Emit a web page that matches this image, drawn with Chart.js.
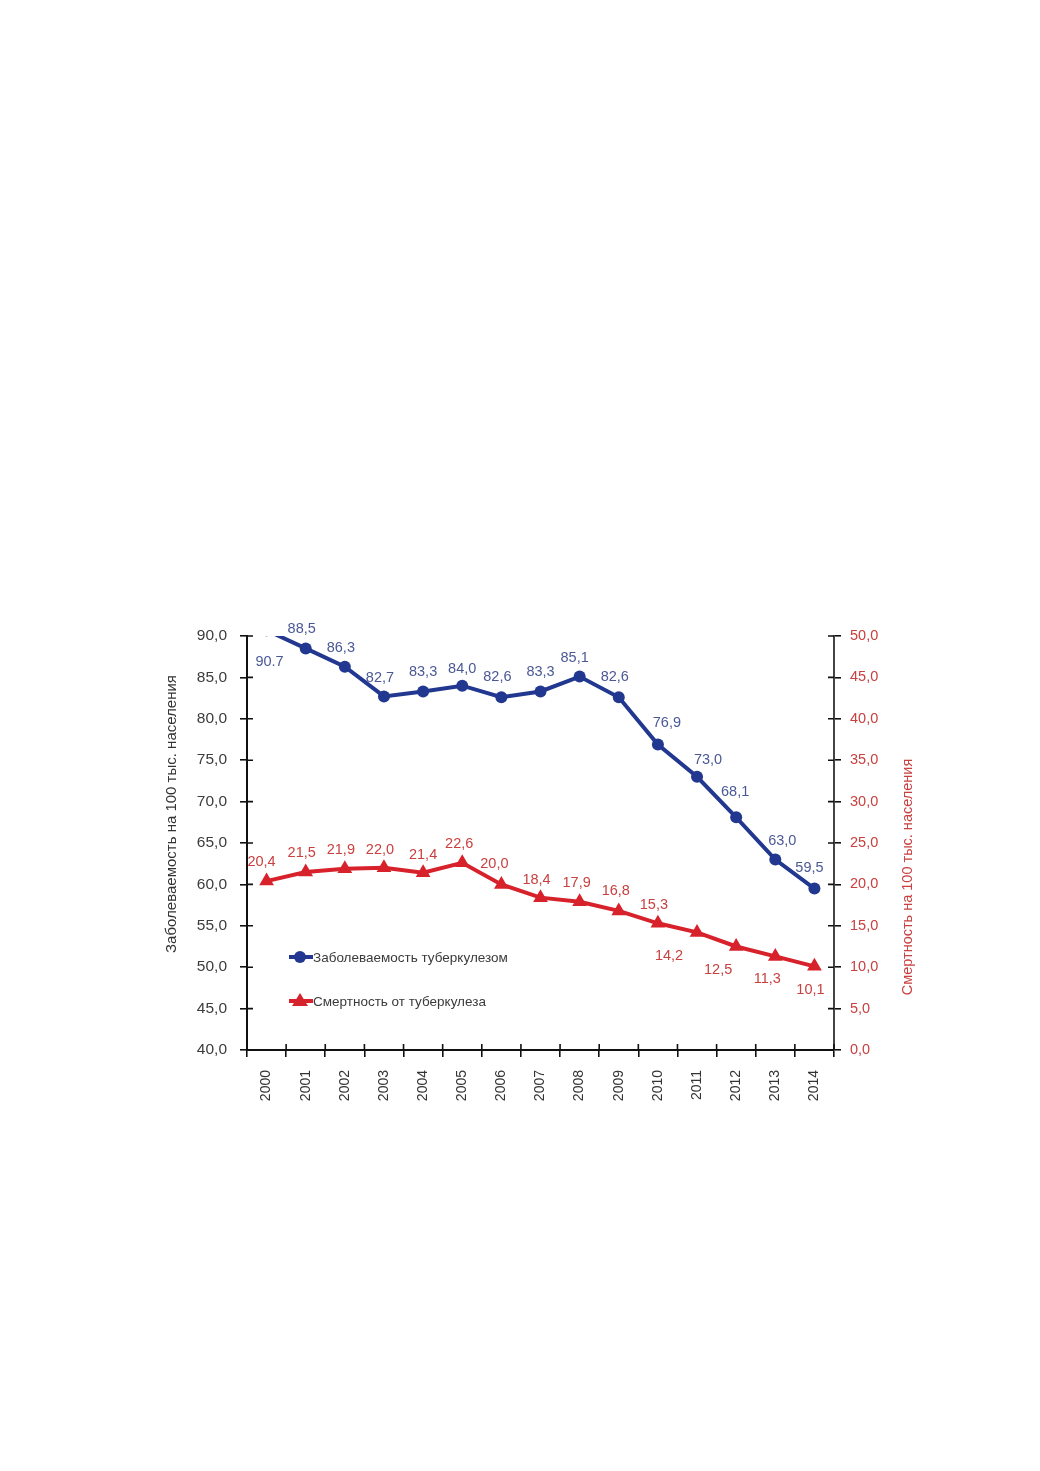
<!DOCTYPE html>
<html>
<head>
<meta charset="utf-8">
<script src="https://cdn.jsdelivr.net/npm/chart.js@4/dist/chart.umd.min.js"></script>
<style>
  body { margin: 0; background: #fff; }
  #wrap { position: relative; width: 1040px; height: 1471px; }
  #tb { position: absolute; left: 150px; top: 610px; }
</style>
</head>
<body>
<div id="wrap"><canvas id="tb" width="790" height="520"></canvas></div>
<script>
// data ===========

const years = ["2000", "2001", "2002", "2003", "2004", "2005", "2006", "2007",
  "2008", "2009", "2010", "2011", "2012", "2013", "2014"];

const incidence = [90.7, 88.5, 86.3, 82.7, 83.3, 84.0, 82.6, 83.3, 85.1, 82.6,
  76.9, 73.0, 68.1, 63.0, 59.5];

const mortality = [20.4, 21.5, 21.9, 22.0, 21.4, 22.6, 20.0, 18.4, 17.9, 16.8,
  15.3, 14.2, 12.5, 11.3, 10.1];

const leftTicks = { min: 40, max: 90, step: 5 };
const rightTicks = { min: 0, max: 50, step: 5 };

const incidenceName = "Заболеваемость туберкулезом";
const mortalityName = "Смертность от туберкулеза";
const leftTitle = "Заболеваемость на 100 тыс. населения";
const rightTitle = "Смертность на 100 тыс. населения";

// label nudges (dx, dy from the point)
const blueNudge = [[3, 32], [-4, -19], [-4, -19], [-4, -18], [0, -19], [0, -17],
  [-4, -20], [0, -19], [-5, -19], [-4, -20], [9, -21], [11, -17], [-1, -25],
  [7, -19], [-5, -21]];
const redNudge = [[-5, -19], [-4, -19], [-4, -19], [-4, -18], [0, -18], [-3, -19],
  [-7, -20], [-4, -18], [-3, -19], [-3, -20], [-4, -18], [-28, 24], [-18, 23],
  [-8, 23], [-4, 24]];

const BLUE = "#22378f";
const RED = "#d7222c";
const BLUE_TXT = "#4b5896";
const RED_TXT = "#c8403f";
const FONT = "'Liberation Sans', Arial, sans-serif";

function fmt(v, i, ds) {
  // the first blue label is printed with a dot in the source
  if (ds === 0 && i === 0) return v.toFixed(1);
  return v.toFixed(1).replace(".", ",");
}

// plugin: point labels, inner tick halves, legend, axis titles
const extras = {
  id: "extras",
  afterDatasetsDraw(chart) {
    const ctx = chart.ctx;
    ctx.save();
    ctx.font = "14.5px " + FONT;
    ctx.textAlign = "center";
    ctx.textBaseline = "middle";
    [[0, blueNudge, BLUE_TXT], [1, redNudge, RED_TXT]].forEach(([d, nudge, col]) => {
      const meta = chart.getDatasetMeta(d);
      const vals = chart.data.datasets[d].data;
      ctx.fillStyle = col;
      meta.data.forEach((pt, i) => {
        ctx.fillText(fmt(vals[i], i, d), pt.x + nudge[i][0], pt.y + nudge[i][1]);
      });
    });
    ctx.restore();
  },
  afterDraw(chart) {
    const ctx = chart.ctx;
    const a = chart.chartArea;
    const x = chart.scales.x, y = chart.scales.y, y1 = chart.scales.y1;
    ctx.save();
    ctx.lineWidth = 1.6;
    ctx.strokeStyle = "#111";
    ctx.beginPath();
    y.ticks.forEach((t, i) => {
      const p = y.getPixelForTick(i);
      ctx.moveTo(a.left, p); ctx.lineTo(a.left + 6, p);
    });
    y1.ticks.forEach((t, i) => {
      const p = y1.getPixelForTick(i);
      ctx.moveTo(a.right, p); ctx.lineTo(a.right - 6, p);
    });
    for (let i = 0; i <= years.length; i++) {
      const p = x.left + i * (x.width / years.length);
      ctx.moveTo(p, a.bottom); ctx.lineTo(p, a.bottom - 6);
    }
    ctx.stroke();

    // legend
    const lx = a.left + 42;
    const rows = [[a.top + 321, BLUE, "circle", incidenceName],
                  [a.top + 365, RED, "triangle", mortalityName]];
    rows.forEach(([ly, col, shape, txt]) => {
      ctx.strokeStyle = col;
      ctx.fillStyle = col;
      ctx.lineWidth = 4;
      ctx.beginPath();
      ctx.moveTo(lx, ly); ctx.lineTo(lx + 24, ly);
      ctx.stroke();
      ctx.beginPath();
      if (shape === "circle") {
        ctx.arc(lx + 11, ly, 6, 0, Math.PI * 2);
      } else {
        ctx.moveTo(lx + 11, ly - 8); ctx.lineTo(lx + 19, ly + 5); ctx.lineTo(lx + 3, ly + 5);
        ctx.closePath();
      }
      ctx.fill();
      ctx.fillStyle = "#3a3a3a";
      ctx.font = "13.5px " + FONT;
      ctx.textAlign = "left";
      ctx.textBaseline = "middle";
      ctx.fillText(txt, lx + 24, ly + 1);
    });

    // axis titles
    ctx.textAlign = "center";
    ctx.textBaseline = "middle";
    ctx.font = "15px " + FONT;
    ctx.fillStyle = "#333";
    ctx.save();
    ctx.translate(a.left - 75, a.top + 178);
    ctx.rotate(-Math.PI / 2);
    ctx.fillText(leftTitle, 0, 0);
    ctx.restore();
    ctx.font = "14.5px " + FONT;
    ctx.fillStyle = RED_TXT;
    ctx.save();
    ctx.translate(a.right + 74, a.top + 241);
    ctx.rotate(-Math.PI / 2);
    ctx.fillText(rightTitle, 0, 0);
    ctx.restore();
    ctx.restore();
  }
};

const tb = document.getElementById("tb").getContext("2d");
const chart = new Chart(tb, {
  type: "line",
  data: {
    labels: years,
    datasets: [
      {
        label: incidenceName,
        data: incidence,
        yAxisID: "y",
        borderColor: BLUE,
        backgroundColor: BLUE,
        borderWidth: 4,
        pointStyle: "circle",
        pointRadius: 6,
        pointBorderWidth: 0,
        tension: 0,
      },
      {
        label: mortalityName,
        data: mortality,
        yAxisID: "y1",
        borderColor: RED,
        backgroundColor: RED,
        borderWidth: 4,
        pointStyle: "triangle",
        pointRadius: 8.5,
        pointBorderWidth: 0,
        tension: 0,
      },
    ],
  },
  options: {
    responsive: false,
    animation: false,
    events: [],
    layout: { padding: { top: 26, left: 0, right: 0, bottom: 0 } },
    plugins: { legend: { display: false }, tooltip: { enabled: false } },
    scales: {
      x: {
        offset: true,
        grid: { offset: true, drawOnChartArea: false, tickLength: 7, color: "#111", lineWidth: 1.6 },
        border: { color: "#111", width: 2 },
        ticks: {
          autoSkip: false, minRotation: 90, maxRotation: 90, padding: 13,
          color: "#333", font: { family: FONT, size: 14 },
        },
        afterFit(s) { s.height = 80; },
      },
      y: {
        position: "left",
        min: leftTicks.min, max: leftTicks.max,
        grid: { drawOnChartArea: false, tickLength: 7, color: "#111", lineWidth: 1.6 },
        border: { color: "#111", width: 2 },
        ticks: {
          stepSize: leftTicks.step, padding: 13, color: "#3c3c3c",
          font: { family: FONT, size: 15.5 },
          callback: (v) => v.toFixed(1).replace(".", ","),
        },
        afterFit(s) { s.width = 97; },
      },
      y1: {
        position: "right",
        min: rightTicks.min, max: rightTicks.max,
        grid: { drawOnChartArea: false, tickLength: 7, color: "#111", lineWidth: 1.6 },
        border: { color: "#444", width: 2 },
        ticks: {
          stepSize: rightTicks.step, padding: 9, color: RED_TXT,
          font: { family: FONT, size: 14.5 },
          callback: (v) => v.toFixed(1).replace(".", ","),
        },
        afterFit(s) { s.width = 106; },
      },
    },
  },
  plugins: [extras],
});
</script>
</body>
</html>
